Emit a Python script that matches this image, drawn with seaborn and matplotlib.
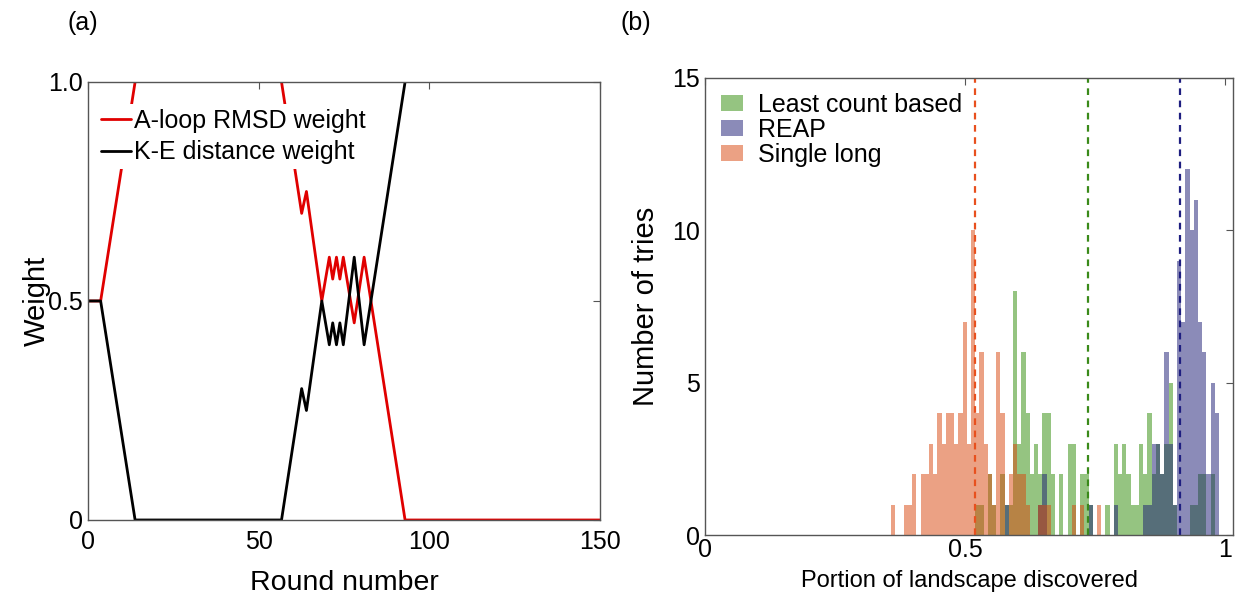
import numpy as np
import pandas as pd
import matplotlib
matplotlib.use("Agg")
import matplotlib.pyplot as plt
import seaborn as sns

# Panel (a): weights per round
red_round = [0, 3.7, 13.8, 35.0, 56.7, 62.6, 64.0, 68.5, 70.7, 71.7, 72.8, 73.8, 74.8, 78.0, 80.9, 92.9, 150]
red_weight = [0.5, 0.5, 1.0, 2.0, 1.0, 0.70, 0.75, 0.50, 0.60, 0.55, 0.60, 0.55, 0.60, 0.45, 0.60, 0.0, 0.0]
black_round = [0, 3.7, 13.8, 56.7, 62.6, 64.0, 68.5, 70.7, 71.7, 72.8, 73.8, 74.8, 78.0, 80.9, 92.9, 150]
black_weight = [0.5, 0.5, 0.0, 0.0, 0.30, 0.25, 0.50, 0.40, 0.45, 0.40, 0.45, 0.40, 0.60, 0.40, 1.0, 3.85]

# Panel (b): histogram counts on a shared bin grid
BIN_START = 0.3577
BIN_WIDTH = 0.00808
single_long = [1, 0, 0, 1, 1, 2, 0, 2, 2, 3,
               2, 4, 3, 4, 4, 3, 4, 7, 3, 10,
               4, 6, 3, 2, 1, 6, 4, 0, 2, 3,
               2, 2, 1, 0, 0, 1, 1, 1, 0, 0,
               0, 0, 0, 1, 0, 1, 0, 0, 0, 1] + [0] * 30
least_count = [0] * 20 + [1, 1, 0, 2, 1, 0, 2, 1, 1, 8,
                          3, 6, 4, 2, 3, 2, 4, 4, 2, 0,
                          2, 0, 3, 3, 0, 2, 2, 1, 0, 0,
                          0, 1, 0, 3, 2, 3, 2, 1, 1, 3,
                          2, 4, 2, 3, 2, 3, 5, 1, 0, 0,
                          0, 1, 1, 2, 2, 0, 2, 0, 0, 0]
reap = [0] * 20 + [0, 0, 0, 0, 0, 0, 0, 1, 0, 0,
                   0, 0, 0, 0, 0, 1, 2, 0, 0, 0,
                   0, 0, 0, 0, 0, 0, 0, 1, 0, 0,
                   0, 0, 0, 1, 0, 0, 0, 0, 0, 0,
                   1, 1, 3, 3, 2, 6, 3, 1, 9, 7,
                   12, 10, 11, 7, 6, 2, 5, 4, 0, 0]
mean_single, mean_least, mean_reap = 0.519, 0.737, 0.913

series_names = ["Least count based", "REAP", "Single long"]
series_counts = [least_count, reap, single_long]
series_colors = ["#2d8a05", "#191973", "#d9440a"]
mean_values = [mean_least, mean_reap, mean_single]
mean_colors = ["#3a8a1a", "#1e1e80", "#e8501e"]

sns.set_style("white")
plt.rcParams["font.family"] = ["Liberation Sans", "DejaVu Sans"]
plt.rcParams["text.color"] = "black"
plt.rcParams["axes.labelcolor"] = "black"
plt.rcParams["xtick.color"] = "black"
plt.rcParams["ytick.color"] = "black"

fig = plt.figure(figsize=(12.36, 5.94), dpi=100)
ax1 = fig.add_axes([0.0712, 0.1246, 0.4142, 0.7374])
ax2 = fig.add_axes([0.5704, 0.0993, 0.4272, 0.7694])

# ---- (a)
sns.lineplot(x=red_round, y=red_weight, ax=ax1, color="#e00000", lw=2, sort=False,
             label="A-loop RMSD weight")
sns.lineplot(x=black_round, y=black_weight, ax=ax1, color="black", lw=2, sort=False,
             label="K-E distance weight")
ax1.set_xlim(0, 150)
ax1.set_ylim(0, 1.0)
ax1.set_xticks([0, 50, 100, 150])
ax1.set_yticks([0, 0.5, 1.0])
ax1.set_yticklabels(["0", "0.5", "1.0"])
ax1.set_xlabel("Round number", fontsize=20.5, labelpad=12)
ax1.set_ylabel("Weight", fontsize=21, labelpad=-2)
leg = ax1.legend(loc="upper left", bbox_to_anchor=(0.015, 0.95), fontsize=18,
                 handlelength=1.2, handletextpad=0.15, borderaxespad=0.0,
                 labelspacing=0.3, borderpad=0.2, frameon=True, fancybox=False)
leg.get_frame().set_edgecolor("none")
leg.get_frame().set_alpha(1)

# ---- (b)
edges = [BIN_START + BIN_WIDTH * i for i in range(len(reap) + 1)]
centers = [e + BIN_WIDTH / 2 for e in edges[:-1]]
for name, counts, col in zip(series_names, series_counts, series_colors):
    df = pd.DataFrame({"portion": centers, "tries": counts})
    sns.histplot(data=df, x="portion", weights="tries", bins=edges, ax=ax2, color=col,
                 alpha=0.5, linewidth=0, element="bars", label=name)
for m, col in zip(mean_values, mean_colors):
    ax2.axvline(m, color=col, ls=(0, (3, 2.5)), lw=1.6)
ax2.set_xlim(0, 1.015)
ax2.set_ylim(0, 15)
ax2.set_xticks([0, 0.5, 1])
ax2.set_xticklabels(["0", "0.5", "1"])
ax2.set_yticks([0, 5, 10, 15])
ax2.set_xlabel("Portion of landscape discovered", fontsize=17, labelpad=6)
ax2.set_ylabel("Number of tries", fontsize=21, labelpad=9)
ax2.legend(loc="upper left", bbox_to_anchor=(0.012, 0.99), fontsize=18, frameon=False,
           handlelength=0.85, handleheight=0.6, handletextpad=0.6, labelspacing=0.05,
           borderaxespad=0.0)

for ax in (ax1, ax2):
    ax.tick_params(direction="in", top=True, right=True, length=5, width=0.8,
                   labelsize=18, color="#555555")
    for sp in ax.spines.values():
        sp.set_visible(True)
        sp.set_color("#555555")
        sp.set_linewidth(1.0)
ax1.tick_params(axis="x", pad=7)
ax2.tick_params(axis="x", pad=2)

fig.text(0.055, 0.95, "(a)", fontsize=18)
fig.text(0.502, 0.95, "(b)", fontsize=18)

fig.savefig("out.png", dpi=100)
